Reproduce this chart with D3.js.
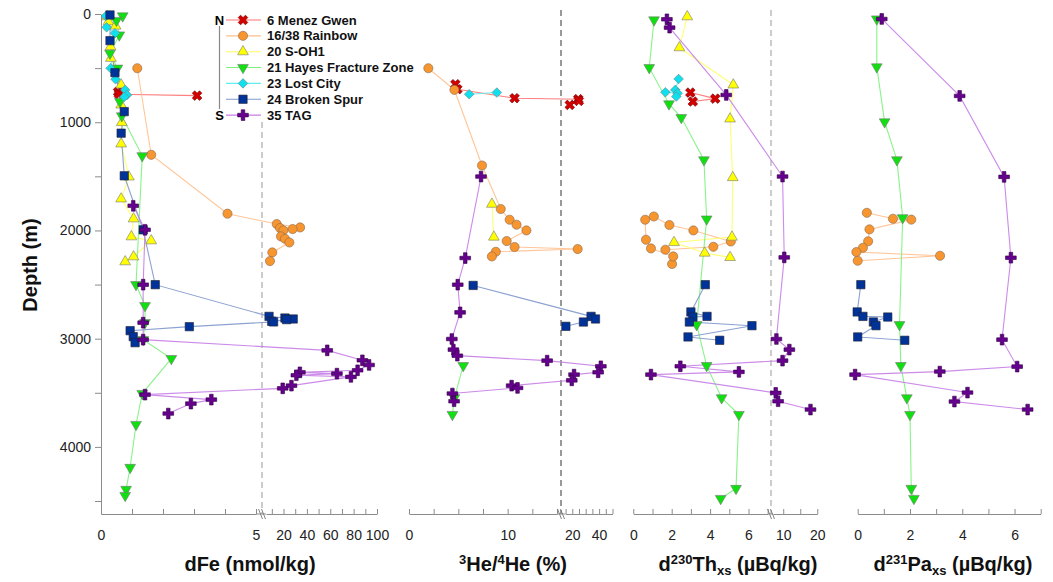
<!DOCTYPE html>
<html><head><meta charset="utf-8">
<script src="https://cdn.jsdelivr.net/npm/d3@7"></script>
<style>
  body { margin: 0; background: #fff; }
  svg { display: block; font-family: "Liberation Sans", Arial, sans-serif; }
</style>
</head><body>
<svg id="chart" width="1053" height="582"></svg>
<script>
// ---- stations (north to south) ----
const stationKeys  = ["MG", "RB", "SO", "HF", "LC", "BS", "TAG"];
const stationNames = ["6 Menez Gwen", "16/38 Rainbow", "20 S-OH1", "21 Hayes Fracture Zone",
                      "23 Lost City", "24 Broken Spur", "35 TAG"];
const lineColors   = ["#ff7070", "#ffbf8c", "#ffff60", "#7cf27c", "#60eeee", "#7f98cc", "#c77ee6"];
const fillColors   = ["#d40000", "#f7952f", "#ffff00", "#10e010", "#10e0ee", "#003399", "#66008f"];

// ---- profiles: [station, depth (m), value]; points joined in listed order ----
const dFe = [
  ["MG", 720, 0.55], ["MG", 741, 0.58], ["MG", 754, 3.10],
  ["RB", 501, 1.17], ["RB", 1301, 1.62], ["RB", 1845, 4.08], ["RB", 1941, 14.2], ["RB", 1972, 34.2],
  ["RB", 1978, 17.0], ["RB", 1987, 27.8], ["RB", 2000, 19.8], ["RB", 2055, 17.8], ["RB", 2077, 21.2],
  ["RB", 2111, 25.0], ["RB", 2203, 10.4], ["RB", 2283, 8.4],
  ["SO", 25, 0.20], ["SO", 71, 0.24], ["SO", 111, 0.47], ["SO", 302, 0.31], ["SO", 409, 0.32],
  ["SO", 655, 0.65], ["SO", 840, 0.65], ["SO", 1003, 0.67], ["SO", 1200, 0.65], ["SO", 1505, 0.90],
  ["SO", 1708, 0.65], ["SO", 1892, 1.05], ["SO", 2058, 0.98], ["SO", 2095, 1.62], ["SO", 2243, 1.05],
  ["SO", 2289, 0.78],
  ["HF", 18, 0.70], ["HF", 60, 0.50], ["HF", 194, 0.59], ["HF", 363, 0.29], ["HF", 501, 0.53],
  ["HF", 809, 0.61], ["HF", 941, 0.67], ["HF", 1310, 1.33], ["HF", 2501, 1.13], ["HF", 2695, 1.42],
  ["HF", 2852, 1.42], ["HF", 3009, 1.36], ["HF", 3184, 2.27], ["HF", 3507, 1.33], ["HF", 3793, 1.13],
  ["HF", 4190, 0.94], ["HF", 4393, 0.81], ["HF", 4449, 0.78],
  ["LC", 18, 0.16], ["LC", 123, 0.18], ["LC", 178, 0.45], ["LC", 501, 0.31], ["LC", 603, 0.47],
  ["LC", 701, 0.78], ["LC", 748, 0.84], ["LC", 766, 0.75],
  ["BS", 9, 0.29], ["BS", 246, 0.29], ["BS", 542, 0.45], ["BS", 902, 0.75], ["BS", 1101, 0.65],
  ["BS", 1495, 0.75], ["BS", 1994, 1.36], ["BS", 2501, 1.75], ["BS", 2794, 7.6], ["BS", 2809, 21.2],
  ["BS", 2818, 28.3], ["BS", 2824, 22.6], ["BS", 2840, 9.9], ["BS", 2845, 11.5], ["BS", 2889, 2.85],
  ["BS", 2926, 0.94], ["BS", 2981, 1.04], ["BS", 3037, 1.10],
  ["TAG", 1772, 1.04], ["TAG", 1994, 1.42], ["TAG", 2501, 1.36], ["TAG", 2852, 1.36], ["TAG", 3009, 1.36],
  ["TAG", 3108, 57.4], ["TAG", 3200, 87.5], ["TAG", 3243, 93.2], ["TAG", 3292, 83.4], ["TAG", 3311, 34.0],
  ["TAG", 3323, 65.7], ["TAG", 3338, 31.0], ["TAG", 3353, 77.7], ["TAG", 3434, 26.8], ["TAG", 3459, 19.3],
  ["TAG", 3517, 1.42], ["TAG", 3563, 3.56], ["TAG", 3600, 2.90], ["TAG", 3692, 2.17]
];

const heRatio = [
  ["MG", 649, 4.7], ["MG", 695, 4.9], ["MG", 778, 10.7], ["MG", 787, 24.4], ["MG", 803, 24.9], ["MG", 840, 18.1],
  ["RB", 501, 1.96], ["RB", 701, 4.6], ["RB", 1400, 7.4], ["RB", 1802, 9.3], ["RB", 1901, 10.2],
  ["RB", 1947, 10.9], ["RB", 2000, 11.9], ["RB", 2098, 9.9], ["RB", 2153, 10.7], ["RB", 2172, 24.0],
  ["RB", 2197, 8.8], ["RB", 2240, 8.4],
  ["SO", 1757, 8.4], ["SO", 2061, 8.6],
  ["HF", 3249, 5.5], ["HF", 3547, 4.6], ["HF", 3701, 4.4],
  ["LC", 726, 8.9], ["LC", 741, 6.1],
  ["BS", 2508, 6.5], ["BS", 2794, 34.0], ["BS", 2818, 37.3], ["BS", 2846, 28.3], ["BS", 2886, 15.2],
  ["TAG", 1502, 7.3], ["TAG", 2255, 5.7], ["TAG", 2501, 4.94], ["TAG", 2757, 5.18], ["TAG", 3003, 4.34],
  ["TAG", 3101, 4.5], ["TAG", 3157, 4.9], ["TAG", 3203, 14.0], ["TAG", 3255, 41.3], ["TAG", 3311, 39.3],
  ["TAG", 3332, 21.3], ["TAG", 3385, 19.6], ["TAG", 3434, 10.4], ["TAG", 3455, 11.0], ["TAG", 3507, 4.4],
  ["TAG", 3578, 4.57]
];

const th230 = [
  ["MG", 726, 2.97], ["MG", 782, 4.27], ["MG", 809, 3.10],
  ["RB", 2310, 2.02], ["RB", 2240, 2.08], ["RB", 2166, 0.92], ["RB", 2086, 0.66], ["RB", 1901, 0.62],
  ["RB", 1871, 1.07], ["RB", 1950, 1.88], ["RB", 2000, 3.13], ["RB", 2102, 5.08], ["RB", 2151, 4.17],
  ["RB", 2178, 1.67],
  ["SO", 25, 2.81], ["SO", 311, 2.40], ["SO", 655, 5.21], ["SO", 969, 5.04], ["SO", 1511, 5.18],
  ["SO", 2061, 5.14], ["SO", 2111, 2.12], ["SO", 2209, 3.72], ["SO", 2249, 5.04],
  ["HF", 55, 1.08], ["HF", 496, 0.83], ["HF", 831, 1.86], ["HF", 957, 2.50], ["HF", 1348, 3.68],
  ["HF", 1895, 3.82], ["HF", 2871, 3.30], ["HF", 3249, 3.82], ["HF", 3547, 4.60], ["HF", 3701, 5.50],
  ["HF", 4384, 5.35], ["HF", 4477, 4.55],
  ["LC", 600, 2.36], ["LC", 701, 2.19], ["LC", 723, 1.67], ["LC", 732, 2.31], ["LC", 763, 2.24],
  ["BS", 2501, 3.75], ["BS", 2753, 3.00], ["BS", 2794, 3.84], ["BS", 2800, 3.10], ["BS", 2846, 2.92],
  ["BS", 2880, 6.18], ["BS", 2984, 2.85], ["BS", 3015, 4.50],
  ["TAG", 49, 1.75], ["TAG", 126, 1.89], ["TAG", 748, 4.84], ["TAG", 1502, 9.8], ["TAG", 2249, 10.3],
  ["TAG", 3003, 8.0], ["TAG", 3101, 11.8], ["TAG", 3203, 9.8], ["TAG", 3255, 2.45], ["TAG", 3307, 5.5],
  ["TAG", 3332, 0.92], ["TAG", 3501, 7.8], ["TAG", 3578, 8.5], ["TAG", 3655, 18.0]
];

const pa231 = [
  ["RB", 1837, 0.35], ["RB", 1892, 1.35], ["RB", 1900, 2.05], ["RB", 1990, 0.45], ["RB", 2100, 0.40],
  ["RB", 2160, 0.20], ["RB", 2200, -0.05], ["RB", 2234, 3.15], ["RB", 2280, 0.00],
  ["HF", 46, 0.73], ["HF", 489, 0.73], ["HF", 997, 1.03], ["HF", 1348, 1.50], ["HF", 1883, 1.72],
  ["HF", 2871, 1.60], ["HF", 3249, 1.65], ["HF", 3547, 1.88], ["HF", 3701, 2.00], ["HF", 4384, 2.05],
  ["HF", 4477, 2.15],
  ["BS", 2501, 0.12], ["BS", 2753, -0.02], ["BS", 2794, 0.20], ["BS", 2800, 1.15], ["BS", 2846, 0.60],
  ["BS", 2880, 0.70], ["BS", 2984, 0.00], ["BS", 3015, 1.80],
  ["TAG", 46, 0.92], ["TAG", 757, 3.90], ["TAG", 1505, 5.60], ["TAG", 2252, 5.86], ["TAG", 3009, 5.52],
  ["TAG", 3258, 6.10], ["TAG", 3304, 3.14], ["TAG", 3332, -0.10], ["TAG", 3498, 4.20], ["TAG", 3581, 3.70],
  ["TAG", 3655, 6.50]
];

// ---- axis tick values ----
const depthTicks   = d3.range(0, 4501, 500);
const feLowTicks   = [0, 1, 2, 3, 4, 5];
const feLowLabels  = [0, 5];
const feHighTicks  = [10, 20, 30, 40, 50, 60, 70, 80, 90, 100];
const feHighLabels = [20, 40, 60, 80, 100];
const heLowTicks   = [0, 2.5, 5, 7.5, 10, 12.5, 15];
const heLowLabels  = [0, 10];
const heHighTicks  = [15, 20, 25, 30, 35, 40, 45, 50];
const heHighLabels = [20, 40];
const thLowTicks   = [0, 1, 2, 3, 4, 5, 6, 7];
const thLowLabels  = [0, 2, 4, 6];
const thHighTicks  = [10, 15, 20];
const thHighLabels = [10, 20];
const paTicks      = [0, 1, 2, 3, 4, 5, 6, 7];
const paLabels     = [0, 2, 4, 6];

// ---- layout ----
const svg = d3.select("#chart");
const axisY = 514, topY = 14;
const y = d3.scaleLinear().domain([0, 4620]).range([topY, axisY]);

const panels = [
  { data: dFe, lo: d3.scaleLinear([0, 5], [101, 256]), hi: d3.scaleLinear([5, 100], [266, 377]),
    loT: feLowTicks, loL: feLowLabels, hiT: feHighTicks, hiL: feHighLabels,
    brk: 262, dash: "#999", dashTop: 122 },
  { data: heRatio, lo: d3.scaleLinear([0, 15], [409, 557]), hi: d3.scaleLinear([15, 50], [565.6, 612.5]),
    loT: heLowTicks, loL: heLowLabels, hiT: heHighTicks, hiL: heHighLabels,
    brk: 561, dash: "#333", dashTop: 10 },
  { data: th230, lo: d3.scaleLinear([0, 7], [633.3, 767.7]), hi: d3.scaleLinear([7, 20], [773, 817.3]),
    loT: thLowTicks, loL: thLowLabels, hiT: thHighTicks, hiL: thHighLabels,
    brk: 771, dash: "#999", dashTop: 10 },
  { data: pa231, lo: d3.scaleLinear([0, 7], [857.7, 1040.7]), hi: null,
    loT: paTicks, loL: paLabels, brk: null }
];

const axisColor = "#8c8c8c";

// depth axis on the first panel
const yAxis = d3.axisLeft(y).tickValues(depthTicks)
  .tickFormat(d => d % 1000 === 0 ? d : "").tickSize(6).tickSizeOuter(0).tickPadding(4);
const gy = svg.append("g").attr("transform", "translate(101,0)").call(yAxis);
gy.select(".domain").attr("stroke", axisColor);
gy.selectAll(".tick line").attr("stroke", axisColor);
gy.selectAll(".tick text").attr("font-size", 14).attr("fill", "#222")
  .attr("font-family", "Liberation Sans, Arial, sans-serif");

svg.append("text").attr("transform", "translate(37,265) rotate(-90)")
  .attr("text-anchor", "middle").attr("font-size", 20).attr("font-weight", "bold")
  .attr("fill", "#111").text("Depth (m)");

function drawXAxis(scale, ticks, labels) {
  const ax = d3.axisBottom(scale).tickValues(ticks)
    .tickFormat(d => labels.includes(d) ? d : "").tickSize(-5).tickSizeOuter(0).tickPadding(16);
  const g = svg.append("g").attr("transform", `translate(0,${axisY})`).call(ax);
  g.select(".domain").attr("stroke", axisColor);
  g.selectAll(".tick line").attr("stroke", axisColor);
  g.selectAll(".tick text").attr("font-size", 14).attr("fill", "#222")
    .attr("font-family", "Liberation Sans, Arial, sans-serif");
  return g;
}

// symbol generators per station
const symbolFor = [
  d3.symbol().type(d3.symbolCross).size(58),     // x (rotated)
  d3.symbol().type(d3.symbolCircle).size(66),
  d3.symbol().type(d3.symbolTriangle).size(50),
  d3.symbol().type(d3.symbolTriangle).size(50),  // inverted
  d3.symbol().type(d3.symbolSquare).size(46),    // diamond (rotated)
  d3.symbol().type(d3.symbolSquare).size(70),
  d3.symbol().type(d3.symbolCross).size(64)
];
const rotFor = [45, 0, 0, 180, 45, 0, 0];
const strokeFor = ["#700000", "#8a6a50", "#777", "#777", "#6a8a8a", "#223", "#300040"];

panels.forEach(p => {
  const xOf = v => (p.hi && v > p.hi.domain()[0]) ? p.hi(v) : p.lo(v);

  // dashed break line
  if (p.brk) {
    svg.append("line").attr("x1", p.brk).attr("x2", p.brk)
      .attr("y1", p.dashTop).attr("y2", axisY)
      .attr("stroke", p.dash).attr("stroke-width", 1).attr("stroke-dasharray", "6,4");
  }

  // axes
  drawXAxis(p.lo, p.loT, p.loL);
  if (p.hi) {
    drawXAxis(p.hi, p.hiT, p.hiL);
    // bridge the axis line across the break
    svg.append("line").attr("x1", p.lo.range()[1]).attr("x2", p.hi.range()[0])
      .attr("y1", axisY).attr("y2", axisY).attr("stroke", axisColor);
    // break marks
    [-1.5, 1.5].forEach(o => {
      svg.append("line").attr("x1", p.brk + o - 2).attr("x2", p.brk + o + 2)
        .attr("y1", axisY - 5).attr("y2", axisY + 5)
        .attr("stroke", "#777").attr("stroke-width", 0.9);
    });
  }

  // profile lines
  stationKeys.forEach((k, i) => {
    const pts = p.data.filter(r => r[0] === k);
    if (pts.length < 2) return;
    svg.append("path")
      .attr("d", d3.line().x(r => xOf(r[2])).y(r => y(r[1]))(pts))
      .attr("fill", "none").attr("stroke", lineColors[i]).attr("stroke-width", 1.1)
      .attr("stroke-opacity", 0.9);
  });

  // markers
  stationKeys.forEach((k, i) => {
    const pts = p.data.filter(r => r[0] === k);
    svg.append("g").selectAll("path").data(pts).join("path")
      .attr("d", symbolFor[i])
      .attr("transform", r => `translate(${xOf(r[2])},${y(r[1])}) rotate(${rotFor[i]})`)
      .attr("fill", fillColors[i]).attr("stroke", strokeFor[i]).attr("stroke-width", 0.6);
  });
});

// axis titles
const titleY = 571;
svg.append("text").attr("x", 250).attr("y", titleY).attr("text-anchor", "middle")
  .attr("font-size", 20).attr("font-weight", "bold").attr("fill", "#111").text("dFe (nmol/kg)");

const t2 = svg.append("text").attr("x", 513).attr("y", titleY).attr("text-anchor", "middle")
  .attr("font-size", 20).attr("font-weight", "bold").attr("fill", "#111");
t2.append("tspan").attr("font-size", 13).attr("dy", -7).text("3");
t2.append("tspan").attr("dy", 7).text("He/");
t2.append("tspan").attr("font-size", 13).attr("dy", -7).text("4");
t2.append("tspan").attr("dy", 7).text("He (%)");

const t3 = svg.append("text").attr("x", 738).attr("y", titleY).attr("text-anchor", "middle")
  .attr("font-size", 20).attr("font-weight", "bold").attr("fill", "#111");
t3.append("tspan").text("d");
t3.append("tspan").attr("font-size", 13).attr("dy", -7).text("230");
t3.append("tspan").attr("dy", 7).text("Th");
t3.append("tspan").attr("font-size", 13).attr("dy", 4).text("xs");
t3.append("tspan").attr("dy", -4).text(" (µBq/kg)");

const t4 = svg.append("text").attr("x", 953).attr("y", titleY).attr("text-anchor", "middle")
  .attr("font-size", 20).attr("font-weight", "bold").attr("fill", "#111");
t4.append("tspan").text("d");
t4.append("tspan").attr("font-size", 13).attr("dy", -7).text("231");
t4.append("tspan").attr("dy", 7).text("Pa");
t4.append("tspan").attr("font-size", 13).attr("dy", 4).text("xs");
t4.append("tspan").attr("dy", -4).text(" (µBq/kg)");

// legend
const lg = svg.append("g");
const rowY = i => 20 + i * 15.85;
lg.append("line").attr("x1", 219.5).attr("x2", 219.5).attr("y1", 26).attr("y2", 109)
  .attr("stroke", "#888").attr("stroke-width", 1.2);
lg.append("text").attr("x", 219.5).attr("y", rowY(0) + 4.5).attr("text-anchor", "middle")
  .attr("font-size", 13).attr("font-weight", "bold").text("N");
lg.append("text").attr("x", 219.5).attr("y", rowY(6) + 4.5).attr("text-anchor", "middle")
  .attr("font-size", 13).attr("font-weight", "bold").text("S");
stationNames.forEach((name, i) => {
  lg.append("line").attr("x1", 226).attr("x2", 261).attr("y1", rowY(i)).attr("y2", rowY(i))
    .attr("stroke", lineColors[i]).attr("stroke-width", 1.1);
  lg.append("path").attr("d", symbolFor[i])
    .attr("transform", `translate(243,${rowY(i)}) rotate(${rotFor[i]})`)
    .attr("fill", fillColors[i]).attr("stroke", strokeFor[i]).attr("stroke-width", 0.6);
  lg.append("text").attr("x", 267).attr("y", rowY(i) + 4.5)
    .attr("font-size", 13).attr("font-weight", "bold").attr("fill", "#111").text(name);
});
</script>
</body></html>
